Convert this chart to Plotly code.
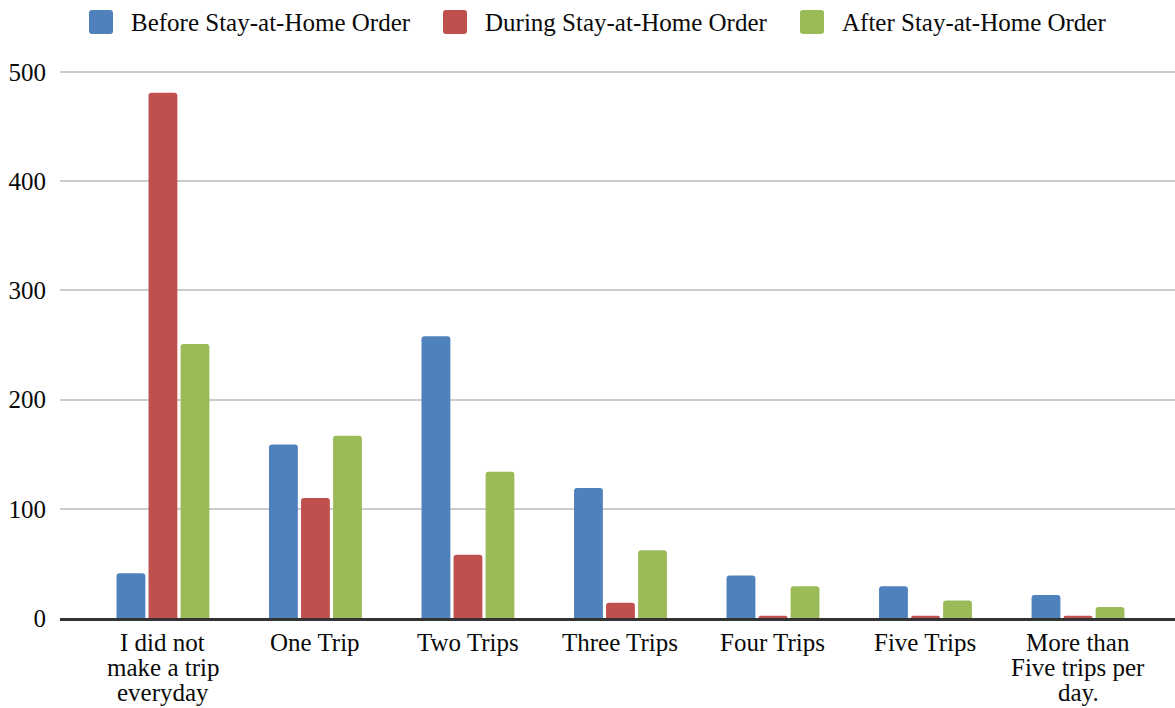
import plotly.graph_objects as go

categories = [
    "I did not make a trip everyday",
    "One Trip",
    "Two Trips",
    "Three Trips",
    "Four Trips",
    "Five Trips",
    "More than Five trips per day.",
]
# how each category label wraps under the axis
category_lines = [
    ["I did not", "make a trip", "everyday"],
    ["One Trip"],
    ["Two Trips"],
    ["Three Trips"],
    ["Four Trips"],
    ["Five Trips"],
    ["More than", "Five trips per", "day."],
]
before_order = [41, 159, 258, 119, 39, 29, 21]
during_order = [481, 110, 58, 14, 2, 2, 2]
after_order = [251, 167, 134, 62, 29, 16, 10]

series_names = [
    "Before Stay-at-Home Order",
    "During Stay-at-Home Order",
    "After Stay-at-Home Order",
]
series_values = [before_order, during_order, after_order]
series_colors = ["#4F81BD", "#C0504D", "#9BBB59"]

FONT = "Liberation Serif, Times New Roman, serif"
TEXT = "#0a0a0a"
FS = 25
W, H = 1175, 708
ML, MR, MT, MB = 60, 0, 71, 90

fig = go.Figure()
for name, values, color in zip(series_names, series_values, series_colors):
    fig.add_trace(go.Bar(
        x=categories,
        y=values,
        name=name,
        marker=dict(color=color, cornerradius=3, line=dict(width=0)),
        showlegend=False,
    ))

# category labels, one line per annotation for tight line spacing
for cat, lines in zip(categories, category_lines):
    for k, line in enumerate(lines):
        fig.add_annotation(
            x=cat, xref="x", y=0, yref="paper",
            text=line, showarrow=False,
            xanchor="center", yanchor="middle",
            yshift=-(24 + 25 * k),
            font=dict(family=FONT, size=FS, color=TEXT),
        )

# legend row across the top: rounded swatch + label
plot_w = W - ML - MR
plot_h = H - MT - MB
swatch_left = [89, 443, 800]


def rounded_square(px, py_top, size, r):
    """SVG path of a rounded square given in pixels, converted to paper units."""
    def p(x, y):
        return f"{(x - ML) / plot_w:.5f},{(H - MB - y) / plot_h:.5f}"
    x0, x1 = px, px + size
    y0, y1 = py_top, py_top + size
    return (
        f"M {p(x0 + r, y0)} L {p(x1 - r, y0)} Q {p(x1, y0)} {p(x1, y0 + r)} "
        f"L {p(x1, y1 - r)} Q {p(x1, y1)} {p(x1 - r, y1)} "
        f"L {p(x0 + r, y1)} Q {p(x0, y1)} {p(x0, y1 - r)} "
        f"L {p(x0, y0 + r)} Q {p(x0, y0)} {p(x0 + r, y0)} Z"
    )


for name, color, sx in zip(series_names, series_colors, swatch_left):
    fig.add_shape(
        type="path", xref="paper", yref="paper",
        path=rounded_square(sx, 10, 24, 3),
        fillcolor=color, line=dict(width=0),
    )
    fig.add_annotation(
        x=(sx + 40 - ML) / plot_w, xref="paper",
        y=(H - MB - 22) / plot_h, yref="paper",
        text=name, showarrow=False,
        xanchor="left", yanchor="middle",
        font=dict(family=FONT, size=FS, color=TEXT),
    )

fig.update_layout(
    width=W,
    height=H,
    margin=dict(l=ML, r=MR, t=MT, b=MB, autoexpand=False),
    paper_bgcolor="white",
    plot_bgcolor="white",
    font=dict(family=FONT, size=FS, color=TEXT),
    barmode="group",
    bargap=0.37,
    bargroupgap=0.1,
    showlegend=False,
)

fig.update_xaxes(
    type="category",
    range=[-0.675, 6.636],
    showgrid=False,
    showline=True,
    linecolor="#333333",
    linewidth=2.5,
    ticks="",
    showticklabels=False,
)
fig.update_yaxes(
    range=[0, 501],
    tickvals=[0, 100, 200, 300, 400, 500],
    showgrid=True,
    gridcolor="#CCCCCC",
    gridwidth=1.5,
    zeroline=False,
    showline=False,
    ticks="",
    ticklabelstandoff=13,
    tickfont=dict(family=FONT, size=FS, color=TEXT),
)

fig.write_html("out.html")
